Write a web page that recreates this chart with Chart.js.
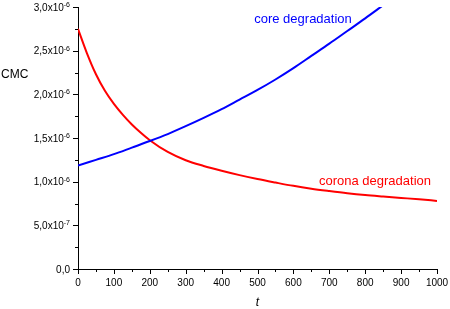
<!DOCTYPE html>
<html lang="en">
<head>
 <meta charset="UTF-8">
 <title>CMC vs t</title>
 <script src="https://cdn.jsdelivr.net/npm/chart.js"></script>
 <style>
 body { margin: 0; background: #fff; }
 </style>
</head>
<body>
 <canvas id="myChart" width="450" height="309"></canvas>
 <script>
 // core degradation (blue)
 const coreT = [0, 50, 100, 150, 200, 250, 300, 350, 400, 450, 500, 550, 600, 650, 700, 750, 800, 850];
 const coreCMC = [1.185e-6, 1.25e-6, 1.315e-6, 1.39e-6, 1.465e-6, 1.545e-6, 1.635e-6, 1.73e-6, 1.83e-6,
 1.94e-6, 2.05e-6, 2.17e-6, 2.30e-6, 2.44e-6, 2.58e-6, 2.725e-6, 2.87e-6, 3.02e-6];
 // corona degradation (red)
 const coronaT = [0, 25, 50, 75, 100, 125, 150, 175, 200, 250, 300, 350, 400, 450, 500, 550, 600, 650, 700, 750, 800, 850, 900, 950, 1000];
 const coronaCMC = [2.75e-6, 2.47e-6, 2.23e-6, 2.04e-6, 1.89e-6, 1.765e-6, 1.655e-6, 1.56e-6, 1.475e-6, 1.34e-6,
 1.245e-6, 1.18e-6, 1.125e-6, 1.075e-6, 1.03e-6, 0.99e-6, 0.952e-6, 0.92e-6, 0.893e-6, 0.868e-6,
 0.847e-6, 0.83e-6, 0.814e-6, 0.798e-6, 0.78e-6];
 // tick labels
 const xTicks = [0, 100, 200, 300, 400, 500, 600, 700, 800, 900, 1000];
 const yTicks = [0, 0.5e-6, 1.0e-6, 1.5e-6, 2.0e-6, 2.5e-6, 3.0e-6];
 const yTickText = ['0,0', '5,0x10', '1,0x10', '1,5x10', '2,0x10', '2,5x10', '3,0x10'];
 const yTickExp = ['', '-7', '-6', '-6', '-6', '-6', '-6'];

 const FONT = '"Liberation Sans", Arial, sans-serif';

 const toPoints = (xs, ys) => xs.map((x, i) => ({ x: x, y: ys[i] }));

 // draw ticks, tick labels, axis titles and curve labels by hand
 const axisPlugin = {
 id: 'axisPlugin',
 afterDraw(chart) {
 const ctx = chart.ctx;
 const xs = chart.scales.x, ys = chart.scales.y;
 const area = chart.chartArea;
 ctx.save();
 ctx.strokeStyle = '#000';
 ctx.lineWidth = 1;
 ctx.beginPath();
 for (let v = 0; v <= 1000; v += 50) {
 const px = Math.round(xs.getPixelForValue(v)) + 0.5;
 const len = v % 100 === 0 ? 5 : 3;
 ctx.moveTo(px, area.bottom);
 ctx.lineTo(px, area.bottom + len);
 }
 for (let i = 0; i <= 12; i++) {
 const v = i * 0.25e-6;
 const py = Math.round(ys.getPixelForValue(v)) + 0.5;
 const len = i % 2 === 0 ? 5 : 3;
 ctx.moveTo(area.left, py);
 ctx.lineTo(area.left - len, py);
 }
 ctx.stroke();

 ctx.fillStyle = '#000';
 ctx.font = '10px ' + FONT;
 ctx.textAlign = 'center';
 ctx.textBaseline = 'middle';
 xTicks.forEach(v => {
 ctx.fillText(String(v), xs.getPixelForValue(v), area.bottom + 14);
 });

 const right = area.left - 8;
 yTicks.forEach((v, i) => {
 const py = ys.getPixelForValue(v);
 ctx.font = '7px ' + FONT;
 const supW = yTickExp[i] ? ctx.measureText(yTickExp[i]).width : 0;
 ctx.textAlign = 'left';
 ctx.textBaseline = 'alphabetic';
 if (yTickExp[i]) ctx.fillText(yTickExp[i], right - supW, py);
 ctx.font = '10px ' + FONT;
 ctx.textAlign = 'right';
 ctx.fillText(yTickText[i], right - supW, py + 3.5);
 });

 ctx.font = '12px ' + FONT;
 ctx.textAlign = 'left';
 ctx.textBaseline = 'middle';
 ctx.fillText('CMC', 1, 75);
 ctx.font = 'italic 12px ' + FONT;
 ctx.textAlign = 'center';
 ctx.fillText('t', xs.getPixelForValue(500), 303);

 ctx.font = '13px ' + FONT;
 ctx.fillStyle = '#0000ff';
 ctx.fillText('core degradation', 303, 19);
 ctx.fillStyle = '#ff0000';
 ctx.fillText('corona degradation', 375, 181);
 ctx.restore();
 }
 };

 const ctx = document.getElementById('myChart').getContext('2d');
 const myChart = new Chart(ctx, {
 type: 'line',
 data: {
 datasets: [{
 label: 'core degradation',
 data: toPoints(coreT, coreCMC),
 borderColor: '#0000ff',
 borderWidth: 2,
 pointRadius: 0,
 cubicInterpolationMode: 'monotone',
 clip: 0,
 fill: false,
 }, {
 label: 'corona degradation',
 data: toPoints(coronaT, coronaCMC),
 borderColor: '#ff0000',
 borderWidth: 2,
 pointRadius: 0,
 cubicInterpolationMode: 'monotone',
 clip: 0,
 fill: false,
 }],
 },
 options: {
 responsive: false,
 animation: false,
 devicePixelRatio: 1,
 layout: { padding: { top: 7, right: 13, left: 0, bottom: 0 } },
 plugins: { legend: { display: false }, tooltip: { enabled: false } },
 scales: {
 x: {
 type: 'linear',
 min: 0,
 max: 1000,
 grid: { display: false },
 border: { display: true, color: '#000', width: 1 },
 ticks: { display: false },
 afterFit(scale) { scale.height = 40; },
 },
 y: {
 type: 'linear',
 min: 0,
 max: 3e-6,
 grid: { display: false },
 border: { display: true, color: '#000', width: 1 },
 ticks: { display: false },
 afterFit(scale) { scale.width = 78; },
 },
 },
 },
 plugins: [axisPlugin],
 });
 </script>
</body>
</html>
